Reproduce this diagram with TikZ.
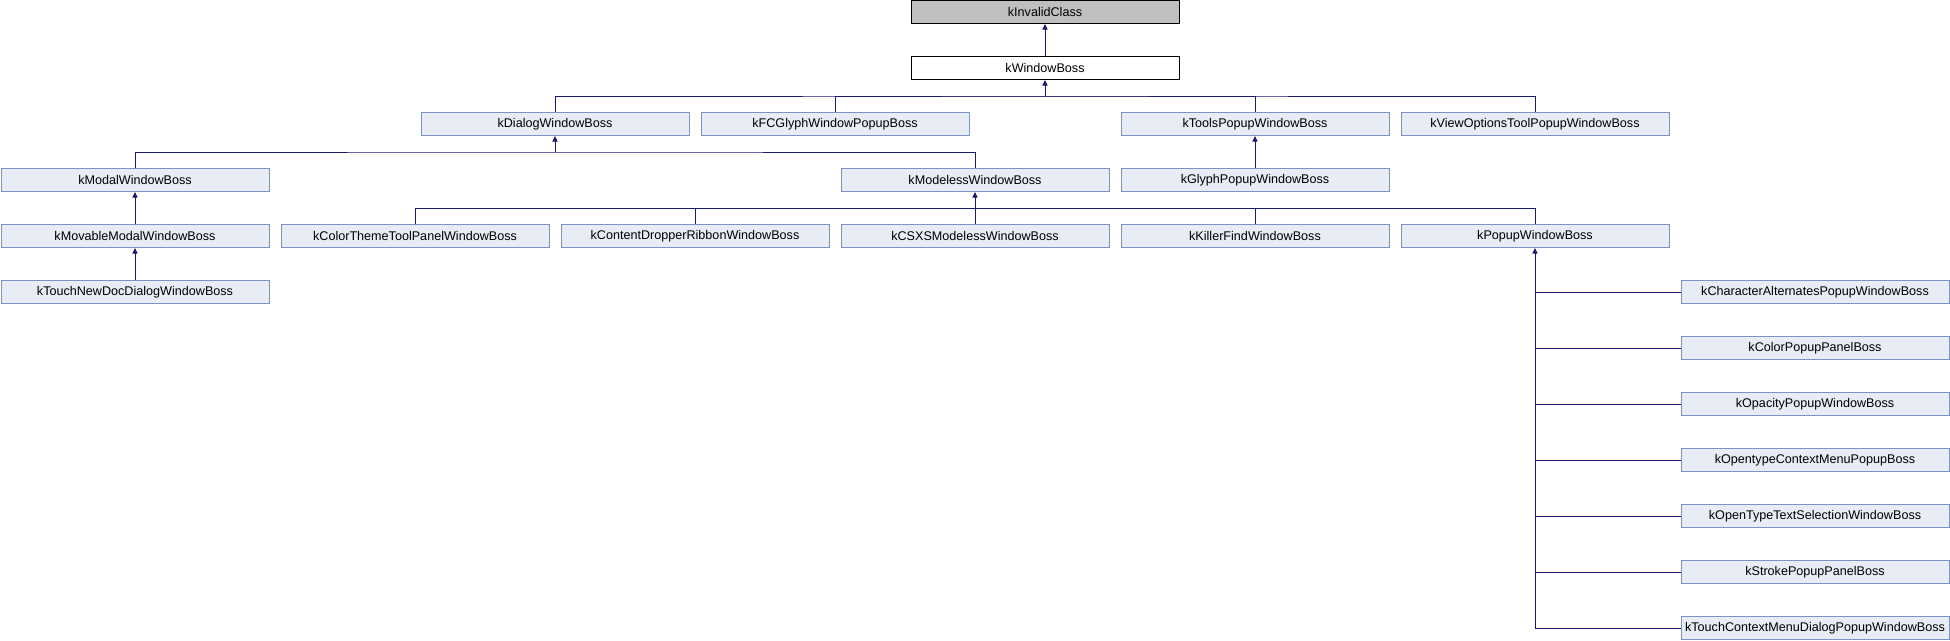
\documentclass[tikz,border=0pt]{standalone}
\usepackage{fontspec}
\setmainfont{Liberation Sans}
\usetikzlibrary{arrows.meta}
\definecolor{boxfill}{HTML}{E8ECF5}
\definecolor{boxline}{HTML}{7B94C6}
\definecolor{edge}{HTML}{191970}
\definecolor{rootfill}{HTML}{BFBFBF}
\tikzset{
  cls/.style={draw=boxline, fill=boxfill, line width=1pt, minimum width=268pt, minimum height=23pt, inner sep=0pt, font=\fontsize{12.6}{14}\selectfont, anchor=center},
  rootcls/.style={cls, draw=black, fill=rootfill},
  topcls/.style={cls, draw=black, fill=white},
  inh/.style={draw=edge, line width=1pt, -{Triangle[length=5.5pt,width=5pt]}},
  ln/.style={draw=edge, line width=1pt}
}
\begin{document}
\begin{tikzpicture}[x=1pt,y=-1pt]
\useasboundingbox (0,0) rectangle (1950,640);
% rows
\node[rootcls] (inv) at (1045,12) {kInvalidClass};
\node[topcls] (win) at (1045,68) {kWindowBoss};
\node[cls] (dlg) at (555,124) {kDialogWindowBoss};
\node[cls] (fcg) at (835,124) {kFCGlyphWindowPopupBoss};
\node[cls] (tools) at (1255,124) {kToolsPopupWindowBoss};
\node[cls] (view) at (1535,124) {kViewOptionsToolPopupWindowBoss};
\node[cls] (modal) at (135,180) {kModalWindowBoss};
\node[cls] (modeless) at (975,180) {kModelessWindowBoss};
\node[cls] (glyph) at (1255,180) {kGlyphPopupWindowBoss};
\node[cls] (movable) at (135,236) {kMovableModalWindowBoss};
\node[cls] (theme) at (415,236) {kColorThemeToolPanelWindowBoss};
\node[cls] (dropper) at (695,236) {kContentDropperRibbonWindowBoss};
\node[cls] (csxs) at (975,236) {kCSXSModelessWindowBoss};
\node[cls] (killer) at (1255,236) {kKillerFindWindowBoss};
\node[cls] (popup) at (1535,236) {kPopupWindowBoss};
\node[cls] (touchnew) at (135,292) {kTouchNewDocDialogWindowBoss};
\node[cls] (charalt) at (1815,292) {kCharacterAlternatesPopupWindowBoss};
\node[cls] (colorpop) at (1815,348) {kColorPopupPanelBoss};
\node[cls] (opacity) at (1815,404) {kOpacityPopupWindowBoss};
\node[cls] (otctx) at (1815,460) {kOpentypeContextMenuPopupBoss};
\node[cls] (otsel) at (1815,516) {kOpenTypeTextSelectionWindowBoss};
\node[cls] (stroke) at (1815,572) {kStrokePopupPanelBoss};
\node[cls] (touchctx) at (1815,628) {kTouchContextMenuDialogPopupWindowBoss};
% junction coordinates
\coordinate (j1) at (1045,96);
\coordinate (j2) at (555,152);
\coordinate (j3) at (975,208);
\coordinate (jp) at (1535,628);
% edges
\draw[inh] (win.north) -- (inv.south);
\draw[ln] (dlg.north) |- (j1) -| (view.north);
\draw[ln] (fcg.north) |- (j1) -| (tools.north);
\draw[inh] (j1) -- (win.south);
\draw[ln] (modal.north) |- (j2) -| (modeless.north);
\draw[inh] (j2) -- (dlg.south);
\draw[ln] (theme.north) |- (j3) -| (popup.north);
\draw[ln] (dropper.north) |- (j3);
\draw[ln] (killer.north) |- (j3);
\draw[inh] (csxs.north) -- (modeless.south);
\draw[inh] (glyph.north) -- (tools.south);
\draw[inh] (movable.north) -- (modal.south);
\draw[inh] (touchnew.north) -- (movable.south);
\draw[ln] (touchctx.west) -- (jp);
\draw[inh] (jp) -- (popup.south);
\foreach \c in {charalt,colorpop,opacity,otctx,otsel,stroke}{
  \draw[ln] (\c.west) -- (\c.west -| jp);
}
\end{tikzpicture}
\end{document}
